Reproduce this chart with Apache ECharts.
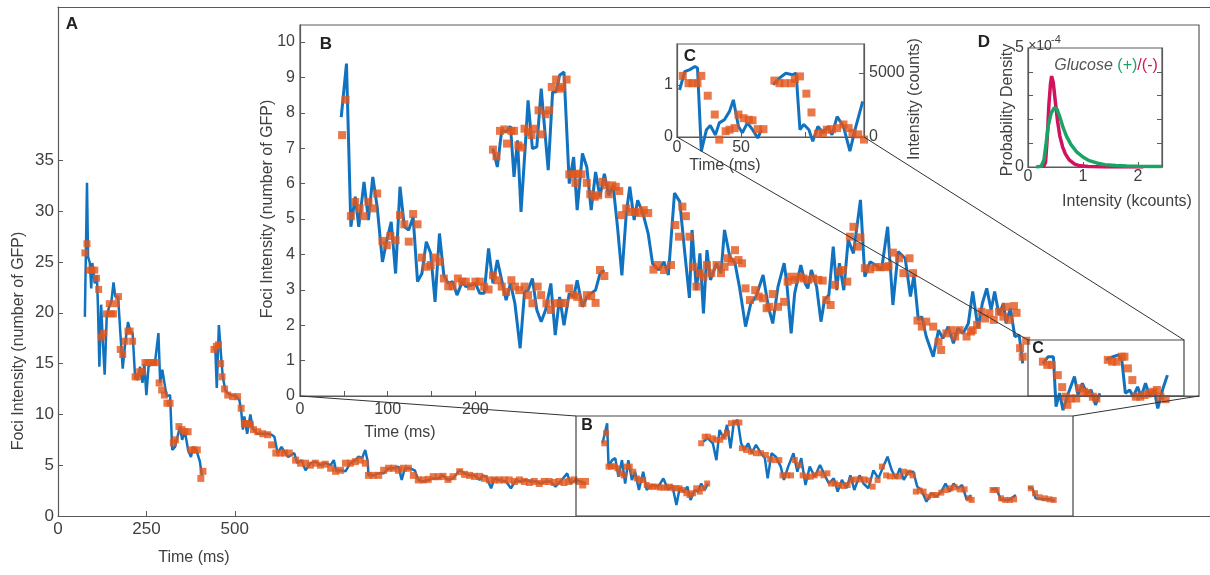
<!DOCTYPE html>
<html><head><meta charset="utf-8">
<script src="https://cdn.jsdelivr.net/npm/echarts@6/dist/echarts.min.js"></script>
<style>html,body{margin:0;padding:0;background:#fff}#c{width:1210px;height:575px}</style>
</head><body><div id="c"></div>
<script>
// ---------- Panel A (full trace), time in ms, value in number of GFP ----------
const aTraceSeg1 = [[76,19.6],[82,32.8],[85,25.5],[90,24.9],[94,22.4],[97,24.9],[104,22.9],[110,23.7],[113,20.6],[117,14.7],[122,20.8],[126,17.7],[132,13.9],[138,19.8],[145,20.6],[151,21.1],[157,23.0],[162,21.6],[170,21.6],[176,18.2],[183,14.5],[190,17.0],[198,19.1],[204,18.2],[211,18.0],[218,13.7],[226,13.4],[232,14.7],[239,13.1],[244,15.0],[250,11.9],[256,14.7],[265,15.0],[274,15.0],[284,18.0],[289,13.1],[295,14.4],[301,13.1],[307,11.8],[317,11.9],[323,6.5],[331,6.8],[338,7.8],[345,8.8],[351,7.5],[359,8.3],[368,6.5],[376,5.8],[382,6.8],[391,6.5],[401,5.4],[407,4.0]];
const aStepSeg1 = [[76,25.9],[82,26.8],[89,24.2],[96,24.2],[104,24.2],[109,23.4],[115,22.3],[123,17.6],[129,18.0],[137,19.9],[145,20.9],[151,19.9],[157,19.9],[164,20.9],[171,21.6],[176,16.4],[183,15.9],[190,17.2],[198,18.2],[204,18.2],[211,17.2],[218,13.7],[225,13.7],[231,14.2],[239,14.2],[246,15.1],[254,15.1],[261,15.1],[270,15.1],[278,15.1],[286,13.1],[293,12.4],[301,11.9],[308,11.1],[317,11.1],[326,7.2],[332,7.5],[342,8.8],[351,8.5],[359,8.3],[368,8.3],[376,6.5],[385,6.5],[394,6.5],[404,3.7],[410,4.4]];
const aTraceSeg2 = [[445,16.4],[449,12.6],[455,18.8],[462,15.4],[466,13.7],[473,12.4],[480,12.1],[490,11.9],[504,11.8],[513,11.4],[518,10.4],[523,8.5],[527,9.8],[535,8.1],[544,10.0],[551,8.6],[563,8.1],[579,8.1],[593,8.1],[604,8.0],[612,7.8],[621,6.2],[632,6.8],[641,6.3],[651,5.8],[668,6.2],[677,5.2],[688,5.5],[700,4.5],[714,5.2],[728,5.35],[742,5.0],[757,5.2],[771,5.0],[780,5.5],[787,4.4],[799,4.5],[813,4.4],[827,5.2],[841,5.5],[850,5.84],[860,5.7],[869,6.5],[876,5.35],[878,4.0],[892,4.0],[907,4.2],[921,4.2],[935,4.7],[949,4.7],[963,4.86],[972,3.55],[981,4.7],[995,4.7],[1009,4.5],[1019,3.55],[1033,3.4],[1047,3.55],[1061,3.7],[1075,3.7],[1089,4.0],[1103,3.55],[1117,3.7],[1136,4.5],[1150,4.2],[1164,4.0],[1178,4.0],[1192,3.55],[1201,4.0],[1211,3.87],[1225,2.73],[1234,3.7],[1248,3.55],[1267,3.4],[1281,2.73],[1295,3.55],[1309,3.4],[1323,3.55],[1337,3.4],[1351,3.4],[1365,3.2],[1379,3.4],[1393,3.4],[1407,2.9],[1421,3.4],[1440,4.2],[1449,3.2],[1464,3.55],[1478,3.4],[1492,3.2]];
const aStepSeg2 = [[441,16.4],[448,16.7],[454,16.85],[460,15.0],[464,13.7],[471,12.5],[480,11.9],[494,11.75],[508,11.75],[518,10.6],[527,9.1],[536,9.1],[544,9.0],[553,8.5],[565,8.3],[579,8.1],[593,8.0],[604,7.0],[616,6.2],[628,6.2],[641,6.2],[654,6.2],[672,5.5],[686,5.2],[700,5.2],[714,5.0],[728,5.2],[742,5.0],[756,5.1],[771,4.7],[785,4.4],[799,4.5],[813,5.2],[827,5.2],[841,5.35],[855,5.5],[869,5.2],[878,4.0],[892,4.0],[907,4.0],[921,4.5],[935,4.7],[949,4.7],[963,4.5],[977,4.7],[991,4.7],[1005,4.0],[1019,3.55],[1033,3.55],[1047,3.6],[1061,3.87],[1075,3.87],[1089,3.9],[1103,3.6],[1117,3.87],[1136,4.36],[1150,4.1],[1164,4.0],[1178,3.9],[1192,3.9],[1206,3.7],[1220,3.55],[1234,3.55],[1248,3.55],[1262,3.55],[1276,3.55],[1291,3.4],[1305,3.55],[1319,3.4],[1333,3.3],[1347,3.4],[1361,3.2],[1375,3.4],[1389,3.4],[1403,3.3],[1417,3.4],[1431,3.3],[1445,3.4],[1459,3.55],[1474,3.4],[1484,3.05],[1492,3.4]];
const aTraceSeg3 = [[1540,7.16],[1553,9.13],[1557,4.86],[1567,5.5],[1576,5.7],[1585,3.87],[1595,5.5],[1604,3.2],[1613,5.5],[1623,3.55],[1632,4.36],[1643,2.56],[1655,4.36],[1665,2.56],[1679,3.05],[1698,2.89],[1712,3.7],[1726,2.56],[1737,3.05],[1749,1.08],[1758,2.73],[1771,2.4],[1780,2.89],[1789,1.58],[1801,2.56],[1810,2.4],[1819,3.2],[1829,2.56],[1838,3.2]];
const aStepSeg3 = [[1545,7.16],[1550,8.15],[1557,4.86],[1564,4.86],[1573,4.9],[1582,4.7],[1590,4.2],[1600,4.0],[1608,4.86],[1617,4.86],[1627,4.36],[1637,3.7],[1646,3.55],[1655,3.55],[1665,3.05],[1674,2.89],[1683,2.89],[1693,2.89],[1702,2.8],[1712,2.8],[1721,2.8],[1730,2.89],[1740,2.73],[1749,2.73],[1758,2.73],[1768,2.56],[1777,2.24],[1786,2.07],[1796,2.24],[1805,2.73],[1815,2.4],[1824,2.73],[1836,3.2]];
const aTraceSeg4 = [[1824,7.3],[1838,7.65],[1852,7.16],[1862,5.5],[1871,8.47],[1883,7.65],[1892,8.97],[1902,6.67],[1911,9.13],[1922,9.46],[1932,7.16],[1941,6.5],[1952,7.16],[1962,6.18],[1974,7.0],[1988,6.18],[1999,5.7],[2007,3.7],[2018,6.18],[2030,5.84],[2044,4.86],[2053,3.55],[2065,4.86],[2080,6.18],[2091,4.36],[2102,5.7],[2114,3.05],[2126,4.86],[2140,3.87],[2155,5.02],[2166,4.2],[2180,3.2],[2194,3.7],[2205,2.4],[2217,3.55],[2230,2.73],[2241,4.0],[2252,2.56],[2267,4.0],[2278,3.2],[2292,2.73],[2306,4.5],[2320,3.7],[2334,4.86],[2346,5.84],[2358,4.5],[2370,3.7],[2381,4.7],[2392,3.55],[2405,4.36],[2419,4.36],[2430,2.89],[2442,2.56],[2456,1.41],[2470,2.24],[2484,1.9],[2498,2.4],[2510,3.2],[2522,2.4],[2533,3.2],[2545,2.73],[2557,3.05],[2570,1.58],[2582,2.07]];
const aStepSeg4 = [[1819,7.16],[1829,7.8],[1838,7.8],[1852,7.65],[1861,7.5],[1873,7.5],[1883,7.8],[1892,8.15],[1903,9.13],[1915,9.2],[1927,9.2],[1934,6.67],[1946,6.5],[1960,6.33],[1974,6.18],[1988,6.18],[2002,6.01],[2014,5.58],[2028,5.5],[2040,5.5],[2049,4.0],[2062,4.0],[2073,4.0],[2084,5.5],[2096,5.0],[2106,4.0],[2118,3.87],[2129,3.87],[2140,4.0],[2153,4.2],[2165,4.0],[2176,4.2],[2186,3.2],[2197,3.2],[2209,3.05],[2221,2.95],[2233,3.05],[2244,3.55],[2256,3.6],[2269,3.6],[2281,3.6],[2292,3.5],[2304,2.89],[2318,3.55],[2330,4.86],[2342,4.0],[2353,3.9],[2367,3.9],[2379,3.9],[2392,4.36],[2405,4.27],[2417,4.0],[2426,2.4],[2437,2.5],[2448,2.4],[2460,1.9],[2473,2.07],[2484,2.07],[2498,2.3],[2511,2.56],[2524,2.73],[2536,2.82],[2550,2.62],[2564,2.62],[2577,1.74],[2584,1.58]];
const aTraceSeg5 = [[2639,2.56],[2653,2.73],[2667,1.58],[2690,1.58],[2709,2.07]];
const aStepSeg5 = [[2643,2.56],[2655,2.56],[2667,1.74],[2679,1.58],[2692,1.58],[2704,1.64]];
const aTraceSeg6 = [[2744,2.82],[2756,2.73],[2765,1.74],[2784,1.64],[2803,1.64],[2819,1.51]];
const aStepSeg6 = [[2751,2.73],[2763,2.24],[2776,1.84],[2791,1.74],[2804,1.64],[2816,1.58]];

// ---------- Panel B (zoom of the boxed region) ----------
const bTraceLow = [[47,7.88],[53,9.39],[58,4.78],[63,5.63],[67,4.78],[73,6.05],[78,4.97],[83,6.19],[88,5.34],[94,3.79],[99,4.40],[104,4.92],[109,3.46],[114,5.91],[119,4.78],[124,4.69],[129,5.06],[134,3.23],[139,3.46],[144,4.36],[149,4.03],[154,2.66],[159,4.59],[164,3.41],[169,3.18],[174,3.23],[179,2.85],[185,3.23],[189,3.09],[195,3.13],[200,3.18],[205,2.90],[210,2.90],[215,4.17],[220,3.18],[225,3.84],[230,3.27],[235,2.71],[240,3.18],[245,2.62],[251,1.35],[256,2.94],[260,2.99],[265,3.32],[270,2.43],[275,2.10],[280,2.43],[286,3.18],[291,1.72],[296,2.80],[301,2.00],[307,2.90],[312,2.80],[316,3.27],[322,2.52],[327,2.80],[332,2.90],[337,2.99],[342,3.46],[347,3.56]];
const bStepLow = [[48,7.37],[52,8.37],[58,5.08],[63,5.48],[68,5.30],[73,5.08],[78,5.48],[83,5.30],[88,5.72],[94,4.38],[99,4.26],[103,4.52],[109,4.40],[114,5.11],[119,4.85],[124,4.36],[129,5.14],[134,4.85],[139,3.91],[144,3.65],[149,3.70],[154,3.91],[159,3.79],[164,3.32],[169,3.10],[174,3.10],[180,3.32],[185,3.23],[189,3.23],[195,3.10],[200,3.23],[205,3.23],[210,3.09],[215,3.01],[220,3.41],[225,3.27],[230,3.09],[235,2.94],[241,3.27],[245,3.09],[250,2.99],[256,3.09],[260,2.85],[265,2.62],[271,3.09],[275,2.85],[281,2.62],[286,2.43],[292,2.62],[297,2.62],[302,2.63],[307,3.04],[312,2.85],[316,2.80],[322,2.63],[327,2.85],[332,2.82],[337,2.63],[342,3.56],[347,3.39]];
const bTraceHigh = [[220,6.99],[225,6.47],[230,7.51],[235,7.46],[240,7.62],[244,6.19],[248,7.22],[252,5.20],[258,7.51],[260,8.35],[265,6.99],[270,7.04],[275,8.68],[283,6.38],[288,8.59],[292,8.59],[296,9.06],[301,9.15],[307,6.0],[312,6.75],[316,5.25],[322,6.85],[327,6.47],[332,5.25],[337,6.33],[342,5.63],[347,6.28],[352,5.67],[357,5.95],[362,4.78],[367,3.41],[372,5.16],[376,5.91],[381,4.97],[385,5.53],[391,5.16],[397,4.59],[402,3.74],[409,3.56],[415,3.79],[420,3.42],[427,5.73],[433,5.49],[438,4.22],[444,2.77],[447,4.69],[452,2.99],[456,4.03],[460,2.33],[464,4.12],[468,3.28],[475,3.75],[480,3.47],[484,4.69],[490,3.94],[496,3.75],[501,3.09],[508,1.96],[514,2.62],[520,2.81],[528,3.42],[534,2.52],[539,2.05],[545,3.09],[552,3.75],[555,3.19],[560,1.77],[564,2.90],[571,3.70],[576,3.18],[579,3.04],[583,3.56],[589,3.09],[594,2.10],[598,2.71],[603,2.85],[608,4.22],[612,2.99],[615,3.75],[620,2.99],[625,4.41],[631,4.03],[639,5.54],[644,3.37],[650,3.79],[656,3.70],[663,3.56],[670,4.78],[676,2.57],[682,4.08],[690,3.89],[696,2.81],[700,3.42],[705,2.15],[709,2.24],[714,1.68],[722,1.11],[728,1.86],[733,1.63],[739,1.96],[745,1.49],[750,1.91],[756,1.77],[762,2.05],[767,2.95],[773,1.91],[778,2.62],[783,3.04],[788,2.43],[792,2.95],[797,2.29],[802,2.62],[805,2.05],[810,2.48],[815,1.68],[820,1.72],[824,0.92]];
const bStepHigh = [[220,6.96],[224,6.77],[228,7.49],[233,7.53],[236,7.13],[241,7.49],[244,7.49],[249,7.08],[252,7.02],[256,7.55],[260,7.46],[264,7.37],[267,7.55],[272,8.07],[275,7.39],[280,7.96],[284,8.07],[287,8.73],[292,8.94],[296,8.68],[299,8.73],[304,8.94],[307,6.26],[312,6.26],[314,6.02],[317,6.28],[321,6.26],[327,6.02],[331,5.70],[336,5.63],[340,5.67],[345,6.05],[349,5.95],[352,5.70],[356,5.95],[360,5.91],[364,5.79],[367,5.11],[372,5.30],[377,5.20],[382,5.20],[388,5.17],[392,5.25],[397,5.17],[403,3.57],[408,3.70],[415,3.56],[423,3.70],[428,4.83],[432,4.50],[436,5.35],[440,5.08],[444,4.50],[448,3.65],[452,3.09],[456,3.47],[460,3.37],[464,3.70],[469,3.47],[475,3.70],[480,3.47],[484,3.65],[488,3.89],[492,3.79],[496,4.12],[500,3.84],[504,3.75],[508,3.04],[513,2.71],[519,2.99],[523,2.81],[528,2.76],[532,2.48],[535,2.52],[539,2.88],[545,2.52],[552,2.66],[556,3.23],[560,3.37],[564,3.28],[569,3.37],[574,3.32],[579,3.28],[585,3.32],[591,3.28],[596,3.26],[600,2.71],[605,2.57],[610,3.14],[615,3.51],[619,3.56],[624,3.23],[627,4.50],[631,4.78],[636,4.22],[639,4.48],[644,3.61],[650,3.58],[656,3.64],[662,3.64],[667,3.64],[671,3.67],[676,4.05],[683,3.89],[688,3.47],[695,3.89],[699,3.47],[704,2.13],[709,1.96],[714,2.10],[722,1.96],[728,1.53],[731,1.30],[737,1.77],[743,1.86],[747,1.68],[752,1.86],[760,1.68],[765,1.82],[767,1.86],[772,2.01],[777,2.38],[781,2.19],[786,2.34],[791,2.15],[797,2.38],[802,2.24],[805,2.52],[809,2.15],[814,2.54],[817,2.35],[821,1.35],[824,1.11],[828,1.56]];
const bTraceC1 = [[847,0.92],[853,1.11],[859,1.11],[862,-0.30],[866,0.08],[870,-0.40],[876,0.08],[883,0.55],[887,0.03],[892,0.36],[897,0.08],[902,0.17],[907,-0.25],[912,0.08]];
const bStepC1 = [[847,0.97],[852,0.88],[857,0.88],[864,0.59],[869,0.25],[873,-0.02],[875,-0.25],[879,-0.07],[885,-0.07],[889,0.22],[894,0.12],[898,0.08],[904,-0.02],[908,-0.07]];
const bTraceC2 = [[919,1.03],[927,1.11],[933,1.16],[937,1.02],[941,0.08],[946,0.17],[950,-0.02],[955,0.26],[959,-0.02],[964,0.36],[969,-0.02],[974,0.17],[978,-0.35],[984,0.22],[989,0.59]];
const bStepC2 = [[921,1.02],[926,0.97],[931,0.97],[937,1.11],[940,1.11],[944,0.78],[949,0.45],[953,-0.02],[958,-0.02],[963,0.03],[968,0.08],[973,0.12],[977,0.17],[981,-0.02],[987,-0.09]];

// ---------- Panel C (zoom of the C box) ----------
const cTrace1 = [[2,0.90],[6,1.25],[10,1.29],[14,1.35],[16,1.32],[19,-0.27],[23,0.14],[26,0.22],[30,0.04],[33,0.27],[37,0.33],[41,0.49],[44,0.71],[48,0.20],[51,0.08],[55,0.27],[59,0.14],[63,-0.02],[66,0.14]];
const cStep1 = [[4.5,1.17],[9,1.03],[12,1.03],[16,1.03],[19,1.17],[24,0.79],[29.5,0.43],[33,-0.05],[38,0.11],[41,0.14],[45,0.17],[48,0.43],[52,0.36],[56,0.33],[59,0.32],[63,0.15],[67.5,0.15]];
const cTrace2 = [[75,1.0],[80,1.13],[85,1.22],[90,1.19],[93,1.22],[96,0.14],[99,0.24],[103,0.14],[106,-0.08],[110,0.20],[114,0.08],[118,0.20],[121,0.04],[125,0.39],[130,0.20],[135,-0.27],[139,0.14],[145,0.68]];
const cStep2 = [[76,1.08],[80,1.03],[84,1.03],[89,1.03],[92,1.11],[96,1.16],[101,0.83],[105,0.47],[110,0.06],[114,0.08],[117,0.14],[121,0.15],[125,0.17],[130,0.24],[134,0.17],[137,0.08],[141.5,0.05],[146,-0.05]];

// ---------- Panel D (probability density, x in kcounts, y in 1e-4) ----------
const dGlucoseMinus = [[0.28,0],[0.32,0.2],[0.35,1.2],[0.38,2.6],[0.41,3.5],[0.43,3.82],[0.46,3.55],[0.5,2.7],[0.54,1.9],[0.58,1.3],[0.63,0.85],[0.68,0.55],[0.75,0.3],[0.85,0.12],[0.95,0.05],[1.1,0.02],[1.4,0.005],[1.8,0],[2.1,0]];
const dGlucosePlus = [[0.15,0],[0.24,0.03],[0.29,0.3],[0.33,1.0],[0.37,1.75],[0.42,2.25],[0.48,2.5],[0.53,2.42],[0.58,2.1],[0.64,1.65],[0.7,1.3],[0.78,0.95],[0.88,0.65],[1.0,0.42],[1.1,0.28],[1.25,0.17],[1.4,0.1],[1.6,0.06],[1.8,0.04],[2.0,0.03],[2.2,0.025],[2.44,0.02]];

// ---------- tick values ----------
const aXTicks = [0, 250, 500];
const aYTicks = [0, 5, 10, 15, 20, 25, 30, 35];
const bXLabels = [0, 100, 200];
const bXTicks = [50, 100, 150, 200];
const bYTicks = [0,1,2,3,4,5,6,7,8,9,10];
const cXLabels = [0, 50];
const cYLabels = [0, 1];
const cY2Labels = [0, 5000];
const dXLabels = [0, 1, 2];
const dYLabels = [0, 5];
const dYTicks = [1, 2, 3, 4];

// ---------- layout ----------
const FONT = '"Liberation Sans", Arial, Helvetica, sans-serif';
const TXT = '#404040', AX = '#5a5a5a', BLUE = '#1173c0', ORANGE = '#e2561b';
const G = {
  A: {left: 58, top: 7, width: 1160, height: 509},
  B: {left: 300, top: 25, width: 899, height: 371},
  C: {left: 677, top: 44, width: 187, height: 93},
  D: {left: 1028, top: 48, width: 134, height: 119}
};
const boxBinA = {x1: 576, y1: 416, x2: 1073, y2: 516};
const boxCinB = {x1: 1028, y1: 340, x2: 1184, y2: 396};

function grid(g, bg, show) {
  return Object.assign({show: show, borderColor: AX, borderWidth: 1.2, backgroundColor: bg, containLabel: false}, g);
}
function axis(o) {
  return {
    type: 'value', gridIndex: o.grid, min: o.min, max: o.max, position: o.pos,
    axisLine: {show: true, onZero: false, lineStyle: {color: AX, width: 1.2}},
    axisTick: o.ticks && o.ticks.length ? {show: true, inside: true, length: 5, customValues: o.ticks, lineStyle: {color: AX, width: 1}} : {show: false},
    axisLabel: o.labels && o.labels.length ? {show: true, customValues: o.labels, fontSize: o.fs || 16, color: TXT, fontFamily: FONT, margin: o.margin, formatter: v => String(v)} : {show: false},
    splitLine: {show: false}
  };
}
function trace(data, i, yi, w) {
  return {type: 'line', xAxisIndex: i, yAxisIndex: yi, data: data, symbol: 'none', showSymbol: false,
    lineStyle: {color: BLUE, width: w}, itemStyle: {color: BLUE}, clip: false, silent: true, z: 2};
}
function steps(data, i, yi, s) {
  return {type: 'scatter', xAxisIndex: i, yAxisIndex: yi, data: data, symbol: 'rect', symbolSize: s,
    itemStyle: {color: ORANGE}, clip: false, silent: true, z: 3};
}
function curve(data, color) {
  return {type: 'line', xAxisIndex: 3, yAxisIndex: 4, data: data, symbol: 'none', showSymbol: false,
    lineStyle: {color: color, width: 3.5}, clip: true, silent: true, z: 3};
}
function txt(x, y, text, o) {
  o = o || {};
  return {type: 'text', x: x, y: y, rotation: o.rot || 0, z: 110,
    style: {text: text, x: 0, y: 0, align: 'center', verticalAlign: 'middle', fill: o.fill || TXT,
      font: (o.style || '') + ' ' + (o.weight || 'normal') + ' ' + (o.size || 16) + 'px ' + FONT, rich: o.rich}};
}
function line(x1, y1, x2, y2) {
  return {type: 'line', z: 100, shape: {x1: x1, y1: y1, x2: x2, y2: y2}, style: {stroke: '#333', lineWidth: 1}};
}
function rect(b) {
  return {type: 'rect', z: 100, shape: {x: b.x1, y: b.y1, width: b.x2 - b.x1, height: b.y2 - b.y1}, style: {fill: 'none', stroke: '#444', lineWidth: 1.2}};
}

const Bb = G.B.top + G.B.height, Bl = G.B.left, Br = G.B.left + G.B.width;
const Cb = G.C.top + G.C.height, Cl = G.C.left, Cr = G.C.left + G.C.width;
const ROT = Math.PI / 2;

const option = {
  animation: false,
  backgroundColor: '#fff',
  grid: [grid(G.A, 'transparent', false), grid(G.B, '#fff', true), grid(G.C, '#fff', true), grid(G.D, '#fff', true)],
  xAxis: [
    axis({grid: 0, min: 0, max: 3258, labels: aXTicks, ticks: aXTicks, margin: 5, fs: 17}),
    axis({grid: 1, min: 0, max: 1025, labels: bXLabels, ticks: bXTicks, margin: 6}),
    axis({grid: 2, min: 0, max: 146, labels: cXLabels, ticks: [50, 100], margin: 3}),
    axis({grid: 3, min: 0, max: 2.44, labels: dXLabels, ticks: [1, 2], margin: 2}),
    axis({grid: 0, min: 0, max: 3258, pos: 'top', labels: [], ticks: []})
  ],
  yAxis: [
    axis({grid: 0, min: 0, max: 50.1, labels: aYTicks, ticks: aYTicks, margin: 4, fs: 17}),
    axis({grid: 1, min: 0, max: 10.48, labels: bYTicks, ticks: bYTicks, margin: 5}),
    axis({grid: 2, min: 0, max: 1.78, labels: cYLabels, ticks: [1], margin: 4}),
    axis({grid: 2, min: 0, max: 7266, pos: 'right', labels: cY2Labels, ticks: [5000], margin: 5}),
    axis({grid: 3, min: 0, max: 5, labels: dYLabels, ticks: dYTicks, margin: 4}),
    axis({grid: 3, min: 0, max: 5, pos: 'right', labels: [], ticks: dYTicks})
  ],
  series: [
    trace(aTraceSeg1, 0, 0, 2.5), trace(aTraceSeg2, 0, 0, 2.5), trace(aTraceSeg3, 0, 0, 2.5),
    trace(aTraceSeg4, 0, 0, 2.5), trace(aTraceSeg5, 0, 0, 2.5), trace(aTraceSeg6, 0, 0, 2.5),
    steps(aStepSeg1, 0, 0, 7), steps(aStepSeg2, 0, 0, 7), steps(aStepSeg3, 0, 0, 6),
    steps(aStepSeg4, 0, 0, 6), steps(aStepSeg5, 0, 0, 6), steps(aStepSeg6, 0, 0, 6),
    trace(bTraceLow, 1, 1, 3), trace(bTraceHigh, 1, 1, 3), trace(bTraceC1, 1, 1, 3), trace(bTraceC2, 1, 1, 3),
    steps(bStepLow, 1, 1, 8), steps(bStepHigh, 1, 1, 8), steps(bStepC1, 1, 1, 8), steps(bStepC2, 1, 1, 8),
    trace(cTrace1, 2, 2, 3), trace(cTrace2, 2, 2, 3),
    steps(cStep1, 2, 2, 8), steps(cStep2, 2, 2, 8),
    curve(dGlucoseMinus, '#d1125e'), curve(dGlucosePlus, '#1ba365')
  ],
  graphic: [
    rect(boxBinA), rect(boxCinB),
    line(Bl, Bb, boxBinA.x1, boxBinA.y1), line(Br, Bb, boxBinA.x2, boxBinA.y1),
    line(Cl, Cb, boxCinB.x1, boxCinB.y1), line(Cr, Cb, boxCinB.x2, boxCinB.y1),
    txt(72, 24, 'A', {weight: 'bold', size: 17, fill: '#222'}),
    txt(326, 44, 'B', {weight: 'bold', size: 17, fill: '#222'}),
    txt(690, 56, 'C', {weight: 'bold', size: 17, fill: '#222'}),
    txt(984, 42, 'D', {weight: 'bold', size: 17, fill: '#222'}),
    txt(587, 426, 'B', {weight: 'bold', size: 16, fill: '#222'}),
    txt(1038, 349, 'C', {weight: 'bold', size: 16, fill: '#222'}),
    txt(19, 341, 'Foci Intensity (number of GFP)', {rot: ROT}),
    txt(194, 558, 'Time (ms)'),
    txt(268, 209, 'Foci Intensity (number of GFP)', {rot: ROT}),
    txt(400, 433, 'Time (ms)'),
    txt(725, 166, 'Time (ms)'),
    txt(915, 99, 'Intensity (counts)', {rot: ROT}),
    txt(1008, 110, 'Probability Density', {rot: ROT}),
    txt(1127, 202, 'Intensity (kcounts)'),
    txt(1040, 46, '×10', {size: 14}),
    txt(1056, 40, '-4', {size: 11}),
    txt(1106, 66, '{g|Glucose }{p|(+)}{m|/(-)}', {rich: {
      g: {fontStyle: 'italic', fontSize: 16, fontFamily: FONT, fill: '#555'},
      p: {fontSize: 16, fontFamily: FONT, fill: '#1ba365'},
      m: {fontSize: 16, fontFamily: FONT, fill: '#d1125e'}}})
  ]
};
const chart = echarts.init(document.getElementById('c'), null, {renderer: 'canvas'});
chart.setOption(option);
</script></body></html>
